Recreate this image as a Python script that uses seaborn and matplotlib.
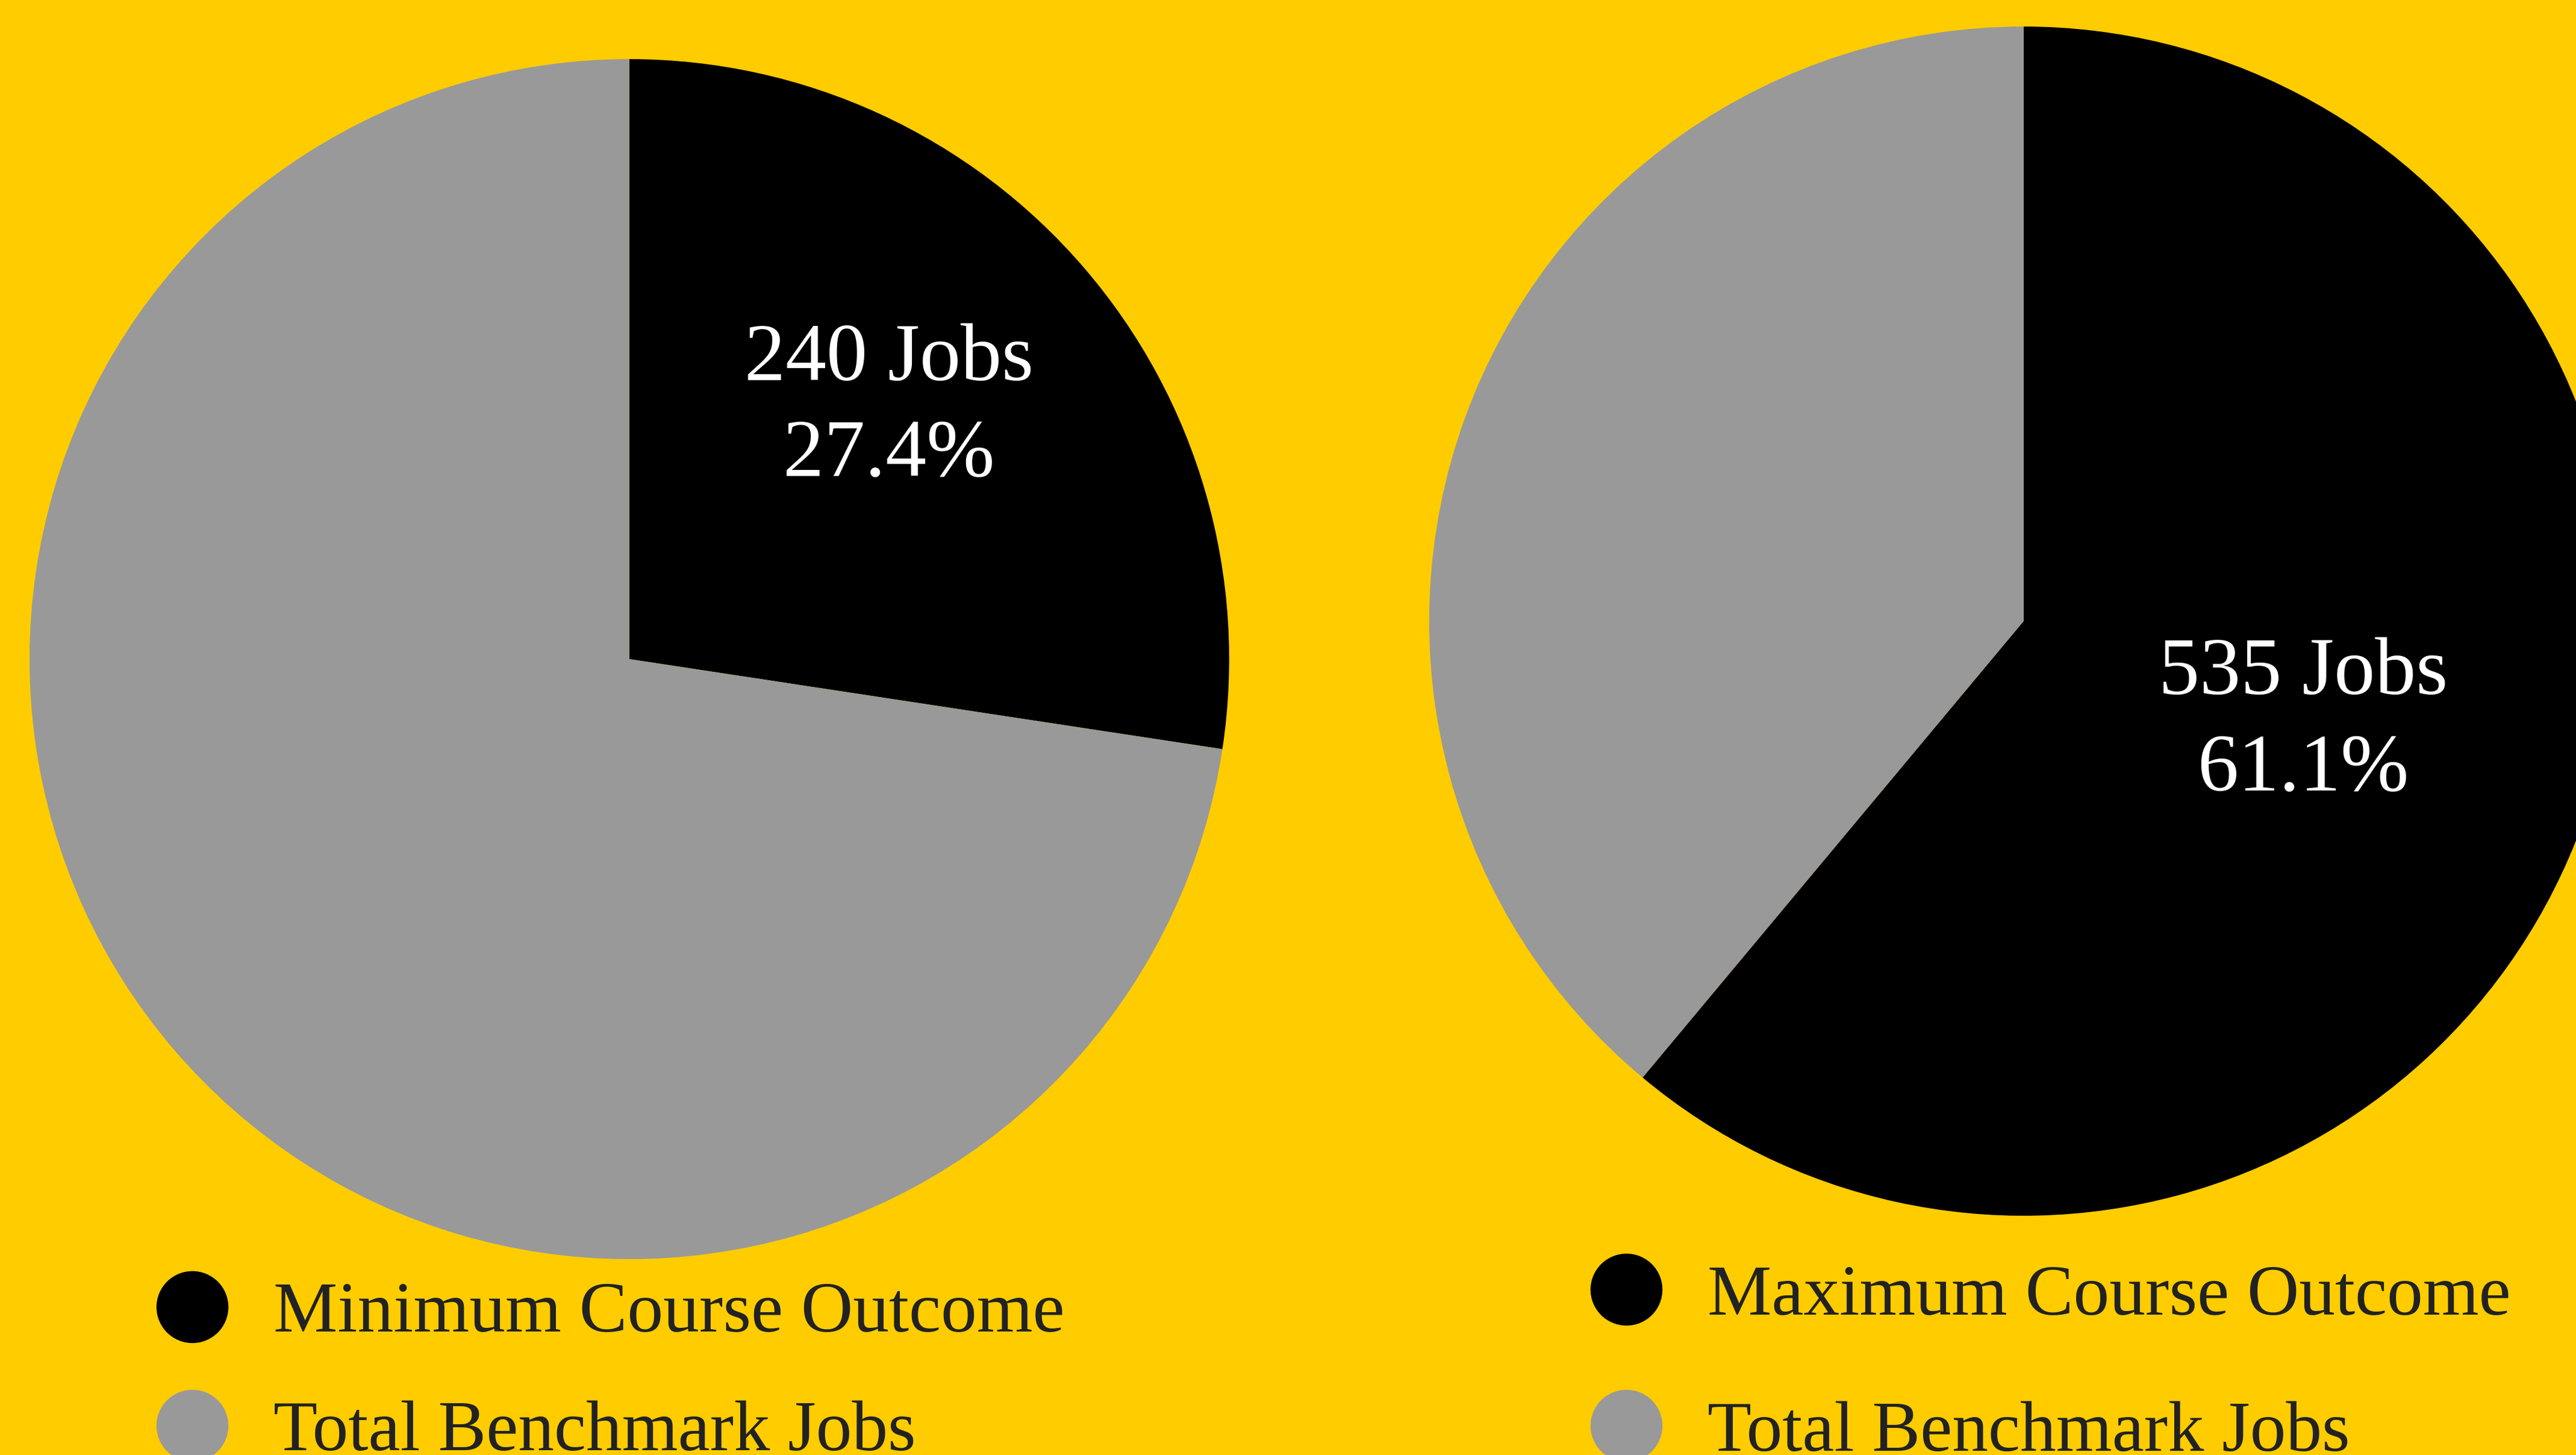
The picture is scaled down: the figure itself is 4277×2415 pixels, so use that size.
import matplotlib
matplotlib.use("Agg")
import matplotlib.pyplot as plt
import seaborn as sns
from matplotlib.lines import Line2D

# Datos
etiquetas_izq = ["Minimum Course Outcome", "Total Benchmark Jobs"]
valores_izq = [240, 636]
etiquetas_der = ["Maximum Course Outcome", "Total Benchmark Jobs"]
valores_der = [535, 341]

# Colores
fondo = "#FFCC00"
colores = ["#000000", "#999999"]

sns.set_theme(style="white")
plt.rcParams["font.family"] = ["Liberation Serif", "DejaVu Serif"]

fig = plt.figure(figsize=(42.77, 24.15), dpi=100)
fig.patch.set_facecolor(fondo)


def hacer_autopct(valores):
    total = sum(valores)

    def etiqueta(pct):
        n = int(round(pct * total / 100.0))
        if n != valores[0]:
            return ""
        return f"{n} Jobs\n{pct:.1f}%"

    return etiqueta


def dibujar_pie(ax, valores, pctdist, ajuste=(0, 0)):
    _, _, textos = ax.pie(
        valores,
        colors=colores,
        startangle=90,
        counterclock=False,
        autopct=hacer_autopct(valores),
        pctdistance=pctdist,
        textprops={"color": "white", "fontsize": 98, "linespacing": 1.38,
                   "ha": "center", "va": "center"},
        wedgeprops={"linewidth": 0},
    )
    # pequeño ajuste de la etiqueta
    for t in textos:
        x, y = t.get_position()
        t.set_position((x + ajuste[0], y + ajuste[1]))
    ax.set_xlim(-1, 1)
    ax.set_ylim(-1, 1)
    ax.set_aspect("equal")
    ax.set_facecolor("none")
    ax.axis("off")


ax1 = fig.add_axes([0.01146, 0.1346, 0.4657, 0.8248])
dibujar_pie(ax1, valores_izq, 0.6, ajuste=(-0.022, 0.027))

ax2 = fig.add_axes([0.5548, 0.1644, 0.4615, 0.8174])
dibujar_pie(ax2, valores_der, 0.5)


def leyenda(etiquetas, x, y, espacio):
    handles = [
        Line2D([0], [0], marker="o", linestyle="none", markersize=86,
               markerfacecolor=c, markeredgewidth=0)
        for c in colores
    ]
    leg = fig.legend(
        handles, etiquetas,
        loc="center left",
        bbox_to_anchor=(x, y),
        bbox_transform=fig.transFigure,
        frameon=False,
        fontsize=86,
        handlelength=1.0,
        handletextpad=0.63,
        labelspacing=espacio,
        borderpad=0,
        borderaxespad=0,
    )
    for t in leg.get_texts():
        t.set_color("#222222")
    return leg


leyenda(etiquetas_izq, 259 / 4277, 0.0561, 0.74)
leyenda(etiquetas_der, 2640 / 4277, 0.0619, 0.98)

plt.savefig("out.png", dpi=100, facecolor=fondo)
plt.close()
